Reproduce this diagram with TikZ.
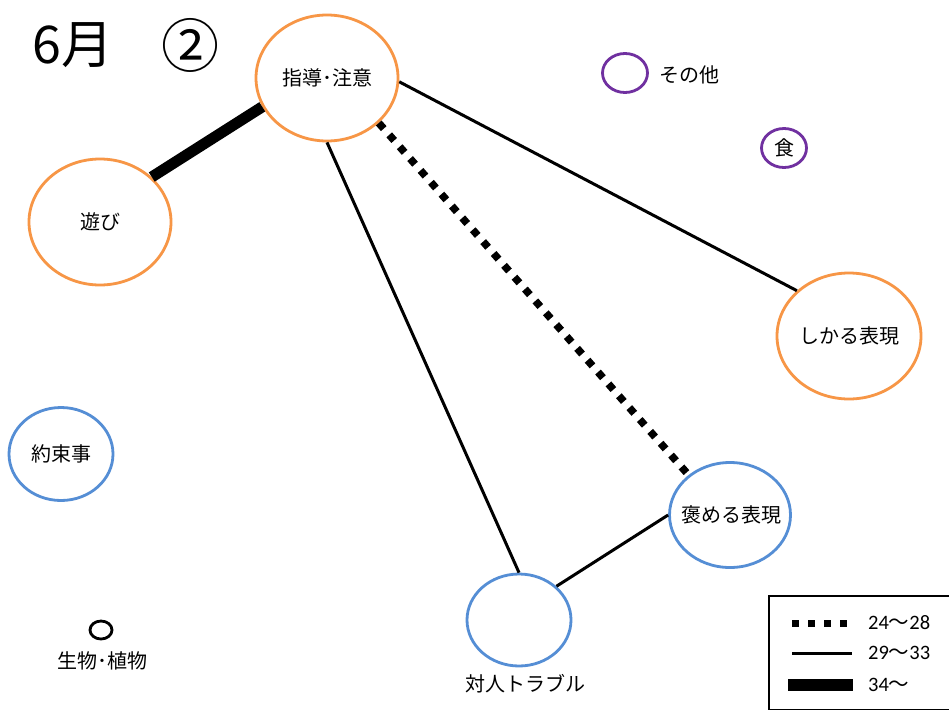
\documentclass[tikz,border=0pt]{standalone}
\usepackage{fontspec}
\setmainfont{Noto Sans CJK JP}
\newfontfamily\latinfont{Carlito}
\newfontfamily\jpfont{Noto Sans CJK JP}
\usetikzlibrary{shapes.geometric}
\definecolor{orng}{HTML}{F79646}
\definecolor{blu}{HTML}{558ED5}
\definecolor{purp}{HTML}{7030A0}
\newcommand{\wave}{{\jpfont ～}}
\begin{document}
\begin{tikzpicture}[x=1pt,y=-1pt,
  bub/.style={ellipse,draw,line width=2.8pt,inner sep=0pt,fill=white,font=\fontsize{20}{22}\selectfont},
  ob/.style={bub,draw=orng},
  bb/.style={bub,draw=blu},
  pb/.style={bub,draw=purp},
  lbl/.style={inner sep=0pt,font=\fontsize{20}{22}\selectfont},
  leg/.style={inner sep=0pt,anchor=west,font=\latinfont\fontsize{20.5}{22}\selectfont},
  thin/.style={line width=3pt},
  thick/.style={line width=11pt},
  dotl/.style={line width=7.5pt,dash pattern=on 7.5pt off 8.3pt}]
\useasboundingbox (0,0) rectangle (949,709);
\fill[white] (0,0) rectangle (949,709);

\node[lbl,font=\fontsize{52}{56}\selectfont] (title) at (73,45) {6月};
\node[lbl,font=\fontsize{58}{62}\selectfont] (num) at (190,45) {②};

\node[ob,minimum width=142pt,minimum height=126pt] (sd) at (327,78) {指導･注意};
\node[ob,minimum width=142pt,minimum height=126pt] (as) at (100,222) {遊び};
\node[ob,minimum width=144pt,minimum height=126pt] (sk) at (849,336) {};
\node[lbl] (skl) at (849,336) {しかる表現};
\node[bb,minimum width=104pt,minimum height=93pt] (yk) at (61,454) {約束事};
\node[bb,minimum width=121pt,minimum height=105pt] (hm) at (730,515) {};
\node[lbl] (hml) at (731,515) {褒める表現};
\node[bb,minimum width=104pt,minimum height=92pt] (tj) at (519,620) {};
\node[lbl] (tjl) at (525,684) {対人トラブル};
\node[pb,minimum width=45pt,minimum height=39pt] (so) at (625,73) {};
\node[lbl,anchor=west] (sol) at (659,75) {その他};
\node[pb,minimum width=45pt,minimum height=39pt] (sh) at (784,148) {食};
\node[bub,minimum width=22pt,minimum height=18pt] (sb) at (101,630) {};
\node[lbl] (sbl) at (102,661) {生物･植物};

\draw[thick] (as.41) -- (sd.-156);
\draw[thin] (sd.-3) -- (sk.139);
\draw[thin] (sd.-90) -- (tj.90);
\draw[dotl] (sd.-41) -- (hm.136);
\draw[thin] (hm.180) -- (tj.42);

% legend
\draw[line width=2pt] (769,596) rectangle (951,710);
\coordinate (l1a) at (792,623); \coordinate (l1b) at (850,623);
\coordinate (l2a) at (792,653); \coordinate (l2b) at (852,653);
\coordinate (l3a) at (788,685); \coordinate (l3b) at (853,685);
\draw[line width=7pt,dash pattern=on 7pt off 9pt] (l1a) -- (l1b);
\draw[thin] (l2a) -- (l2b);
\draw[line width=12pt] (l3a) -- (l3b);
\node[leg] (t1) at (868,623) {24\wave 28};
\node[leg] (t2) at (868,653) {29\wave 33};
\node[leg] (t3) at (868,685) {34\wave};
\end{tikzpicture}
\end{document}
